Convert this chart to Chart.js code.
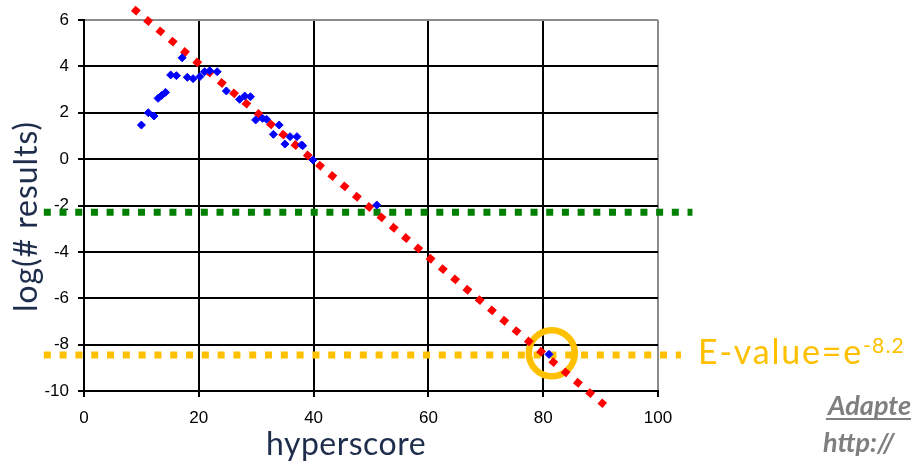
<!DOCTYPE html>
<html>
<head>
<meta charset="utf-8">
<script src="https://cdn.jsdelivr.net/npm/chart.js@4.4.1/dist/chart.umd.min.js"></script>
<style>
  html, body { margin: 0; padding: 0; background: #ffffff; }
  #wrap { width: 911px; height: 462px; position: relative; }
</style>
</head>
<body>
<div id="wrap"><canvas id="c" width="911" height="462"></canvas></div>
<script>
// Observed scores: hyperscore vs log(number of results)
const scoreX = [10.0, 11.2, 12.2, 12.9, 13.5, 14.2, 15.1, 16.1, 17.1, 18.0, 19.0, 20.2, 21.0, 21.9, 23.2,
                24.8, 27.1, 28.0, 29.0, 29.9, 31.1, 31.8, 33.0, 34.0, 35.0, 35.9, 37.1, 37.9, 38.1, 39.9, 51.0, 81.0];
const logCount = [1.47, 2.00, 1.86, 2.62, 2.74, 2.88, 3.63, 3.60, 4.37, 3.53, 3.47, 3.56, 3.77, 3.81, 3.77,
                  2.94, 2.58, 2.72, 2.69, 1.69, 1.76, 1.72, 1.07, 1.47, 0.65, 0.97, 0.97, 0.61, 0.58, -0.04, -1.98, -8.42];

// Fitted line through the tail of the distribution
const fitX = [8.57, 90.73];
const fitY = [6.50, -10.62];

// Horizontal reference levels
const thresholdX = [-7, 106];
const thresholdY = [-2.29, -2.29];
const evalueX = [-7, 104];
const evalueY = [-8.45, -8.45];

// Highlighted hit
const hitX = [81.5];
const hitY = [-8.37];

// Axis ticks and texts
const xTicks = [0, 20, 40, 60, 80, 100];
const yTicks = [-10, -8, -6, -4, -2, 0, 2, 4, 6];
const xTitle = 'hyperscore';
const yTitle = 'log(# results)';
const evalueText = 'E-value=e';
const evalueExp = '-8.2';
const sourceLines = ['Adapted from', 'http://'];

const NAVY = '#1F2D4D';
const GOLD = '#FFC000';
const TICK_FONT = { family: '"Liberation Sans", Arial, sans-serif', size: 17 };

const pts = (xs, ys) => xs.map((x, i) => ({ x: x, y: ys[i] }));

// stretch a string to a given advance width using letter spacing
function spread(ctx, text, width) {
  ctx.letterSpacing = '0px';
  const w = ctx.measureText(text).width;
  const n = Array.from(text).length;
  ctx.letterSpacing = Math.max(0, (width - w) / n) + 'px';
}

const textLayer = {
  id: 'textLayer',
  afterDraw(chart) {
    const ctx = chart.ctx;
    const ys = chart.scales.y;
    ctx.save();

    // axis titles
    ctx.fillStyle = NAVY;
    ctx.textBaseline = 'alphabetic';
    ctx.textAlign = 'left';
    ctx.font = '32px Lato, "Open Sans", sans-serif';
    spread(ctx, xTitle, 160);
    ctx.fillText(xTitle, 266, 455);

    ctx.save();
    ctx.translate(37, 312);
    ctx.rotate(-Math.PI / 2);
    ctx.font = '32px Lato, "Open Sans", sans-serif';
    spread(ctx, yTitle, 191);
    ctx.fillText(yTitle, 0, 0);
    ctx.restore();

    // E-value label next to the dotted level
    const ey = ys.getPixelForValue(evalueY[0]);
    ctx.fillStyle = GOLD;
    ctx.font = '34px Lato, "Open Sans", sans-serif';
    spread(ctx, evalueText, 165);
    ctx.fillText(evalueText, 698, ey + 9);
    ctx.font = '21px Lato, "Open Sans", sans-serif';
    spread(ctx, evalueExp, 42);
    ctx.fillText(evalueExp, 863, ey - 2);
    ctx.letterSpacing = '0px';

    // source note
    ctx.fillStyle = '#7F7F7F';
    ctx.font = 'italic bold 27px Lato, "Open Sans", sans-serif';
    ctx.fillText(sourceLines[0], 828, 415);
    const sw = ctx.measureText(sourceLines[0]).width;
    ctx.fillRect(826, 418, sw + 2, 2);
    ctx.fillText(sourceLines[1], 823, 452);

    ctx.restore();
  }
};

new Chart(document.getElementById('c'), {
  type: 'scatter',
  data: {
    datasets: [
      {
        label: 'observed',
        data: pts(scoreX, logCount),
        order: 0,
        pointStyle: 'rectRot',
        pointRadius: 4,
        pointBorderWidth: 1,
        backgroundColor: '#0000FF',
        borderColor: '#0000FF',
        clip: false
      },
      {
        label: 'fit',
        data: pts(fitX, fitY),
        order: 1,
        showLine: true,
        pointRadius: 0,
        borderColor: '#FF0000',
        borderWidth: 7,
        borderDash: [7, 9.05],
        borderCapStyle: 'butt',
        clip: false
      },
      {
        label: 'hit',
        data: pts(hitX, hitY),
        order: 2,
        pointStyle: 'circle',
        pointRadius: 23,
        pointBorderWidth: 6.5,
        backgroundColor: 'rgba(0,0,0,0)',
        borderColor: GOLD,
        clip: false
      },
      {
        label: 'threshold',
        data: pts(thresholdX, thresholdY),
        order: 3,
        showLine: true,
        pointRadius: 0,
        borderColor: '#008000',
        borderWidth: 7,
        borderDash: [7, 8.7],
        borderCapStyle: 'butt',
        clip: false
      },
      {
        label: 'evalue',
        data: pts(evalueX, evalueY),
        order: 3,
        showLine: true,
        pointRadius: 0,
        borderColor: GOLD,
        borderWidth: 7,
        borderDash: [7, 8.8],
        borderCapStyle: 'butt',
        clip: false
      }
    ]
  },
  options: {
    responsive: false,
    animation: false,
    devicePixelRatio: 1,
    layout: { autoPadding: false, padding: { top: 20, right: 253, left: 0, bottom: 0 } },
    plugins: { legend: { display: false }, tooltip: { enabled: false }, title: { display: false } },
    scales: {
      x: {
        type: 'linear',
        min: 0, max: 100,
        afterBuildTicks: (s) => { s.ticks = xTicks.map(v => ({ value: v })); },
        afterFit: (s) => { s.height = 71; },
        ticks: { color: '#000', font: TICK_FONT, padding: 11, maxRotation: 0 },
        grid: {
          color: (c) => (c.tick && c.tick.value === 100 ? '#8C8C8C' : '#000'),
          lineWidth: 2,
          tickLength: 6,
          tickColor: '#000'
        },
        border: { display: true, color: '#000', width: 2 }
      },
      y: {
        type: 'linear',
        min: -10, max: 6,
        afterBuildTicks: (s) => { s.ticks = yTicks.map(v => ({ value: v })); },
        afterFit: (s) => { s.width = 84; },
        ticks: { color: '#000', font: TICK_FONT, padding: 9 },
        grid: {
          color: (c) => (c.tick && c.tick.value === 6 ? '#8C8C8C' : '#000'),
          lineWidth: 2,
          tickLength: 6,
          tickColor: '#000'
        },
        border: { display: true, color: '#000', width: 2 }
      }
    }
  },
  plugins: [textLayer]
});
</script>
</body>
</html>
